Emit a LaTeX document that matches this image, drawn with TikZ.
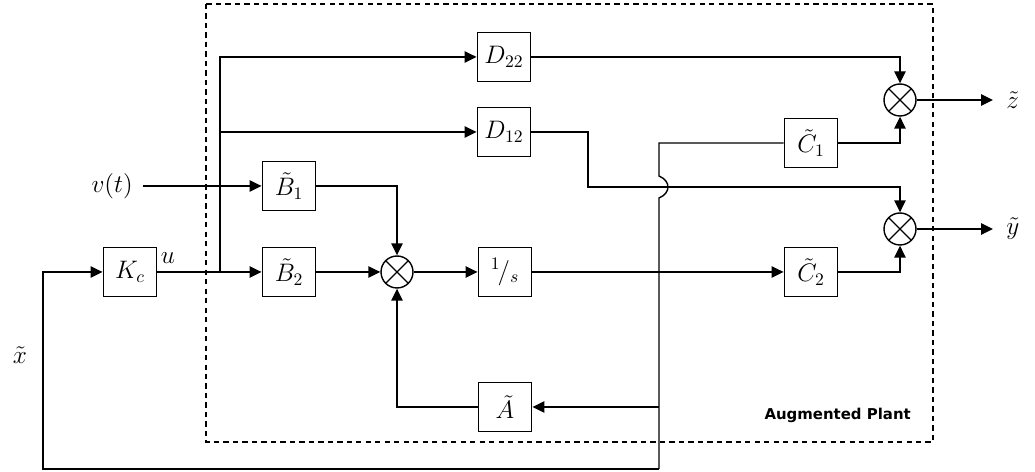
\documentclass[tikz,border=0pt]{standalone}
\usepackage{amsmath,amssymb}
\usepackage{fontspec}
\newfontfamily\plantfont{DejaVu Sans}
\usetikzlibrary{arrows.meta,calc}

\tikzset{
  blk/.style={draw,line width=0.8pt,minimum width=1.07cm,minimum height=0.99cm,
    inner sep=0pt,font=\fontsize{14.5}{16}\selectfont},
  sumnode/.style={draw,circle,line width=0.8pt,minimum size=0.64cm,inner sep=0pt,
    path picture={\draw[line width=0.7pt]
      (path picture bounding box.north west) -- (path picture bounding box.south east)
      (path picture bounding box.north east) -- (path picture bounding box.south west);}},
  wire/.style={line width=0.8pt},
  sig/.style={wire,-{Triangle[length=2.4mm,width=2.3mm]}},
  lbl/.style={font=\fontsize{14.5}{16}\selectfont}
}

\begin{document}
\begin{tikzpicture}[x=0.02cm,y=-0.02cm]
  \useasboundingbox (0,0) rectangle (1035,472);
  % augmented plant frame
  \draw[line width=0.7pt,dash pattern=on 3pt off 2.4pt] (206,4) rectangle (933,442);
  \node[anchor=base east,font=\plantfont\bfseries\fontsize{8.5}{10}\selectfont] (plant) at (917,420) {Augmented Plant};

  % blocks
  \node[blk] (Kc) at (130,272) {$K_c$};
  \node[blk] (B1) at (289,186) {$\tilde{B}_1$};
  \node[blk] (B2) at (289,272) {$\tilde{B}_2$};
  \node[blk] (D22) at (504,57) {$D_{22}$};
  \node[blk] (D12) at (504,132) {$D_{12}$};
  \node[sumnode] (S1) at (397,272) {};
  \node[blk] (integ) at (505,272) {$^{1\!}/_{s}$};
  \node[blk] (Amat) at (505,407) {$\tilde{A}$};
  \node[blk] (C1) at (811,143) {$\tilde{C}_1$};
  \node[blk] (C2) at (811,272) {$\tilde{C}_2$};
  \node[sumnode] (Sz) at (900,100) {};
  \node[sumnode] (Sy) at (900,229) {};

  % labels
  \node[lbl,anchor=east,inner sep=0pt] (vin) at (133,186) {$v(t)$};
  \node[lbl] (ulbl) at (168,258) {$u$};
  \node[lbl] (xlbl) at (20,355) {$\tilde{x}$};
  \node[lbl,anchor=west,inner sep=0pt] (zlbl) at (1006,100) {$\tilde{z}$};
  \node[lbl,anchor=west,inner sep=0pt] (ylbl) at (1006,229) {$\tilde{y}$};

  % junctions
  \coordinate (j1) at (220,272);
  \coordinate (j2) at (659,272);
  \coordinate (j3) at (659,143);
  \coordinate (hop) at (659,187);
  \coordinate (jA) at (659,407);
  \coordinate (jB) at (659,469);
  \coordinate (fb) at (43,469);
  \coordinate (k1) at (588,187);
  \coordinate (zo) at (993,100);
  \coordinate (yo) at (993,229);

  % input side
  \draw[sig] ($(vin.east)+(10,0)$) -- (B1.west);
  \draw[sig] (Kc.east) -- (B2.west);
  \draw[sig] (j1) |- (D22.west);
  \draw[sig] (j1 |- D12.west) -- (D12.west);
  \draw[sig] (B1.east) -| (S1.north);
  \draw[sig] (B2.east) -- (S1.west);
  \draw[sig] (S1.east) -- (integ.west);
  \draw[sig] (integ.east) -- (C2.west);
  \draw[sig] (Amat.west) -| (S1.south);

  % state line with hop over D12 path
  \draw[wire] (C1.west) -- (j3) -- ($(hop)+(0,-11)$)
    .. controls ($(hop)+(12,-6)$) and ($(hop)+(12,6)$) .. ($(hop)+(0,11)$) -- (jB);
  \draw[sig] (jA) -- (Amat.east);
  \draw[sig] (jB) -- (fb) |- (Kc.west);

  % outputs
  \draw[sig] (D22.east) -| (Sz.north);
  \draw[sig] (D12.east) -| (k1) -| (Sy.north);
  \draw[sig] (C1.east) -| (Sz.south);
  \draw[sig] (C2.east) -| (Sy.south);
  \draw[sig] (Sz.east) -- (zo);
  \draw[sig] (Sy.east) -- (yo);
\end{tikzpicture}
\end{document}
